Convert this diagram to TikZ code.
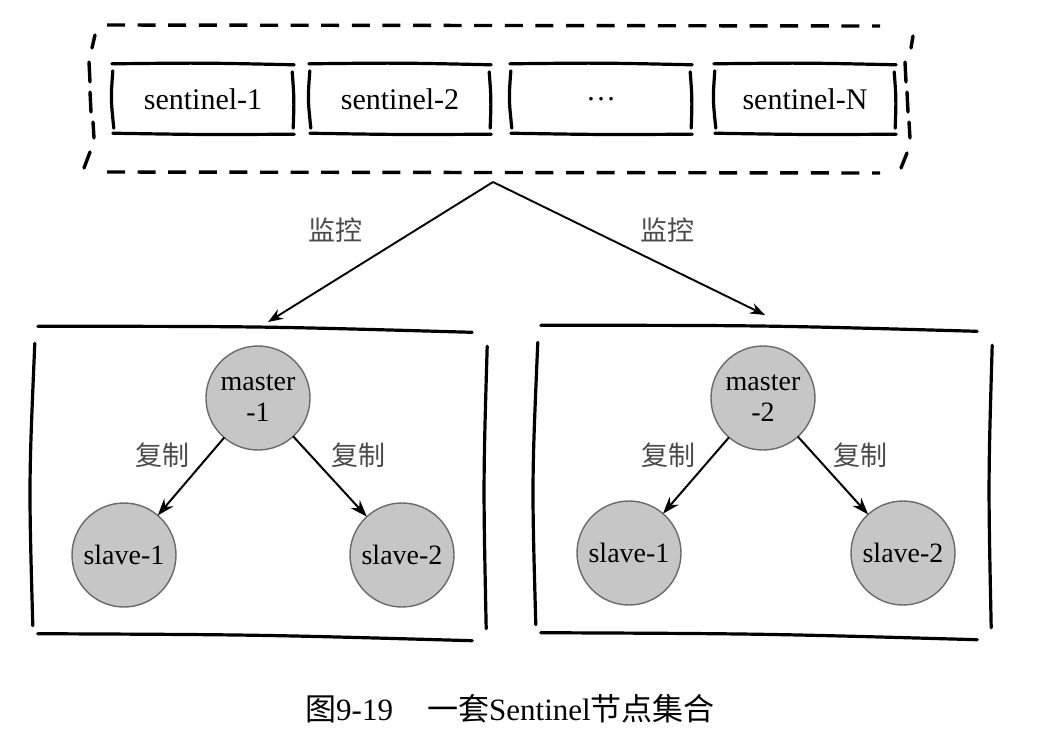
\documentclass[tikz,border=0pt]{standalone}
\usepackage{fontspec}
\setmainfont{Liberation Serif}
\newfontfamily\cjk{Noto Sans CJK SC}
\usetikzlibrary{arrows.meta}
\definecolor{ballgray}{HTML}{C6C6C6}
\definecolor{ringgray}{HTML}{6A6A6A}
\definecolor{lblgray}{HTML}{4A4A4A}
\newcommand\sentbox[1]{%
  \draw[sk] ([xshift=-2pt,yshift=1pt]#1.north west) .. controls ([yshift=2pt]#1.north) .. ([xshift=2pt]#1.north east);
  \draw[sk] ([xshift=-1pt]#1.south west) .. controls ([yshift=-1.5pt]#1.south) .. ([xshift=2pt,yshift=-1pt]#1.south east);
  \draw[sk] ([xshift=-1pt,yshift=-6pt]#1.north west) .. controls ([xshift=-3pt]#1.west) .. ([xshift=0pt,yshift=5pt]#1.south west);
  \draw[sk] ([xshift=0pt,yshift=-7pt]#1.north east) .. controls ([xshift=2pt]#1.east) .. ([xshift=1pt,yshift=5pt]#1.south east);
}
\newcommand\clusterbox[1]{%
  \draw[sk] ([xshift=6pt,yshift=2pt]#1.north west) .. controls ([yshift=2pt]#1.north) .. ([xshift=-16pt,yshift=-4pt]#1.north east);
  \draw[sk] ([xshift=6pt,yshift=4pt]#1.south west) .. controls ([yshift=3pt]#1.south) .. ([xshift=-16pt,yshift=-3pt]#1.south east);
  \draw[sk] ([xshift=3pt,yshift=-15pt]#1.north west) .. controls ([xshift=-3pt]#1.west) .. ([xshift=1pt,yshift=12pt]#1.south west);
  \draw[sk] ([xshift=-1pt,yshift=-18pt]#1.north east) .. controls ([xshift=-5pt]#1.east) .. ([xshift=-2pt,yshift=9pt]#1.south east);
}
\begin{document}
\begin{tikzpicture}[x=1pt,y=-1pt,
  sk/.style={line width=3.2pt, line cap=round, line join=round, black},
  dsh/.style={line width=3.4pt, dash pattern=on 18pt off 12.6pt, black},
  frm/.style={line width=3.4pt, line cap=round, black},
  sbox/.style={rectangle, minimum width=178pt, minimum height=68pt, inner sep=0pt, font=\fontsize{30}{32}\selectfont},
  cbox/.style={rectangle, minimum width=456pt, minimum height=309pt, inner sep=0pt},
  ball/.style={circle, minimum size=104pt, inner sep=0pt, outer sep=0pt, fill=ballgray, draw=ringgray, line width=1.4pt, align=center, font=\fontsize{28}{31}\selectfont},
  lbl/.style={font=\cjk\fontsize{27}{27}\selectfont, text=lblgray},
  arrT/.style={-{Stealth[length=15pt,width=11pt]}, line width=1.9pt, black},
  arrM/.style={-{Stealth[length=17pt,width=12pt]}, line width=2pt, black},
  captext/.style={font=\fontsize{31}{33}\selectfont}
]
\useasboundingbox[fill=white] (0,0) rectangle (1044,748);

% sentinel group
\node[sbox] (s1) at (203,99) {sentinel-1};
\node[sbox] (s2) at (400,99) {sentinel-2};
\node[sbox] (s3) at (601,99) {…};
\node[sbox] (sN) at (805,99) {sentinel-N};
\sentbox{s1}\sentbox{s2}\sentbox{s3}\sentbox{sN}

% dashed frame
\draw[dsh] (107,25) -- (880,26);
\draw[dsh] (107,172) -- (880,173);
\draw[frm] (95,35) -- (92,48);
\draw[frm] (89,62) -- (90,82);
\draw[frm] (90,92) -- (91,112);
\draw[frm] (93,122) -- (94,138);
\draw[frm] (90,152) -- (84,168);
\draw[frm] (913,36) -- (911,48);
\draw[frm] (905,62) -- (906,82);
\draw[frm] (907,92) -- (908,112);
\draw[frm] (909,122) -- (910,138);
\draw[frm] (907,153) -- (901,168);

% clusters
\node[cbox] (boxL) at (260,483) {};
\node[cbox, minimum width=458pt] (boxR) at (764,482) {};
\clusterbox{boxL}\clusterbox{boxR}

% monitoring arrows
\coordinate (apex) at (493,182);
\coordinate (tipL) at (268,322);
\coordinate (tipR) at (765,315);
\draw[arrT] (apex) -- (tipL);
\draw[arrT] (apex) -- (tipR);
\node[lbl] (mon1) at (335,230) {监控};
\node[lbl] (mon2) at (667,230) {监控};

% left cluster
\node[ball] (m1) at (258,398) {master\\-1};
\node[ball] (s11) at (124,555) {slave-1};
\node[ball] (s12) at (402,555) {slave-2};
\draw[arrM] (m1) -- (s11);
\draw[arrM] (m1) -- (s12);
\node[lbl] (r11) at (162,455) {复制};
\node[lbl] (r12) at (358,455) {复制};

% right cluster
\node[ball] (m2) at (763,398) {master\\-2};
\node[ball] (s21) at (629,553) {slave-1};
\node[ball] (s22) at (903,553) {slave-2};
\draw[arrM] (m2) -- (s21);
\draw[arrM] (m2) -- (s22);
\node[lbl] (r21) at (668,455) {复制};
\node[lbl] (r22) at (860,455) {复制};

% caption
\node[captext] (caption) at (510,709) {{\cjk 图}9-19\hspace{1.1em}{\cjk 一套}Sentinel{\cjk 节点集合}};
\end{tikzpicture}
\end{document}
